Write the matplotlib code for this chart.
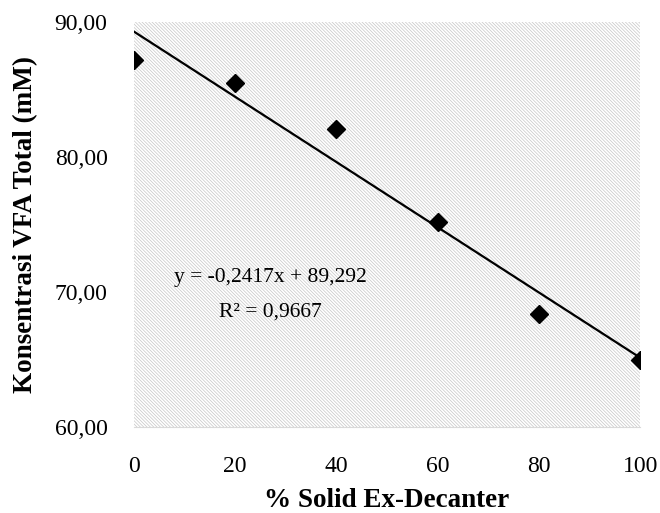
import numpy as np
import matplotlib
matplotlib.use("Agg")
import matplotlib.pyplot as plt
from matplotlib.patches import Rectangle

# data
solid_pct = [0, 20, 40, 60, 80, 100]
vfa_total = [87.16, 85.48, 82.07, 75.20, 68.40, 64.96]
y_ticks = [60, 70, 80, 90]
x_ticks = [0, 20, 40, 60, 80, 100]

plt.rcParams['font.family'] = ['Liberation Serif', 'DejaVu Serif']
plt.rcParams['hatch.linewidth'] = 0.5

# linear trend line
slope, intercept = np.polyfit(solid_pct, vfa_total, 1)

fig = plt.figure(figsize=(6.6, 5.13), dpi=100)
ax = fig.add_axes([0.203, 0.1676, 0.767, 0.7894])

# hatched plot area
ax.add_patch(Rectangle((0, 0), 1, 1, transform=ax.transAxes, facecolor="white",
                       edgecolor="#c6c6c6", hatch="\\" * 10, linewidth=0, zorder=0))

xl = np.array([0, 100])
ax.plot(xl, slope * xl + intercept, color="black", linewidth=1.6, zorder=2)
ax.plot(solid_pct, vfa_total, linestyle="none", marker="D", markersize=9,
        color="black", zorder=3)

ax.text(27, 71.1, "y = -0,2417x + 89,292", fontsize=15.5, ha="center", va="center")
ax.text(27, 68.5, "R² = 0,9667", fontsize=15.5, ha="center", va="center")

ax.set_xlim(0, 100)
ax.set_ylim(60, 90)
ax.set_xticks(x_ticks)
ax.set_yticks(y_ticks)
ax.set_yticklabels([f"{v:.2f}".replace(".", ",") for v in y_ticks])
ax.tick_params(length=0, labelsize=17)
ax.tick_params(axis="y", pad=19)
ax.tick_params(axis="x", pad=21)

for s in ["top", "right", "left"]:
    ax.spines[s].set_visible(False)
ax.spines["bottom"].set_color("#d9d9d9")

ax.set_xlabel("% Solid Ex-Decanter", fontsize=19.5, fontweight="bold", labelpad=8)
ax.set_ylabel("Konsentrasi VFA Total (mM)", fontsize=19.5, fontweight="bold", labelpad=12)

fig.savefig("out.png", dpi=100)
